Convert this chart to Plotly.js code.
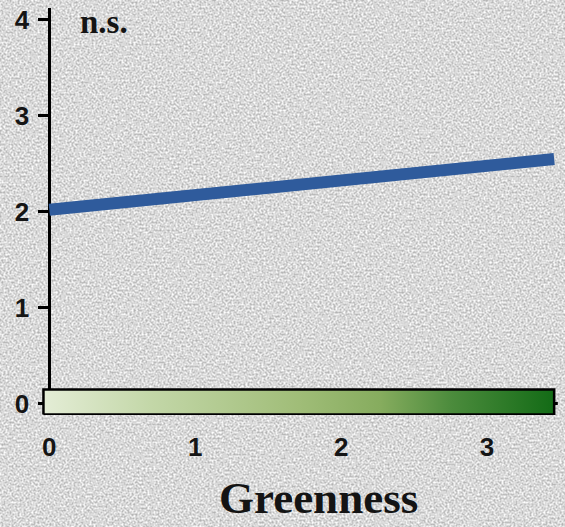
<!DOCTYPE html>
<html>
<head>
<meta charset="utf-8">
<script src="https://cdn.plot.ly/plotly-3.0.1.min.js"></script>
<style>
  html, body { margin: 0; padding: 0; }
  body {
    width: 565px; height: 527px; overflow: hidden;
    background-color: #ffffff;
    background-image: url("data:image/svg+xml;utf8,<svg xmlns='http://www.w3.org/2000/svg' width='565' height='527'><filter id='g' color-interpolation-filters='sRGB'><feTurbulence type='fractalNoise' baseFrequency='0.5' numOctaves='2' seed='7' stitchTiles='stitch'/><feColorMatrix type='matrix' values='1.8 0 0 0 -0.4  1.8 0 0 0 -0.4  1.8 0 0 0 -0.4  0 0 0 0 0.3'/></filter><rect width='100%' height='100%' filter='url(%23g)'/></svg>");
  }
  #chart { width: 565px; height: 527px; }
</style>
</head>
<body>
<div id="chart"></div>
<script>
// Fitted trend of the response against greenness
const lineX = [0, 3.46];
const lineY = [2.02, 2.55];

// Greenness scale strip along the bottom of the panel
const scaleX = [-0.04, 3.46];
const scaleY = [-0.115, 0.145];
const scaleColors = [
  [0.00, '#e4edd6'],
  [0.21, '#c3d7a8'],
  [0.50, '#a0bd78'],
  [0.66, '#86ac5e'],
  [0.80, '#4b8b3c'],
  [1.00, '#136b16']
];

const xTicks = [0, 1, 2, 3];
const yTicks = [0, 1, 2, 3, 4];
const xTitle = 'Greenness';
const sigLabel = 'n.s.';

const xRange = [-0.05, 3.5];
const yRange = [-0.12, 4.125];

const scaleTrace = {
  type: 'scatter',
  mode: 'lines',
  x: [scaleX[0], scaleX[1], scaleX[1], scaleX[0], scaleX[0]],
  y: [scaleY[0], scaleY[0], scaleY[1], scaleY[1], scaleY[0]],
  fill: 'toself',
  fillgradient: { type: 'horizontal', colorscale: scaleColors },
  line: { color: '#000000', width: 2.5 },
  hoverinfo: 'skip',
  showlegend: false
};

const trendTrace = {
  type: 'scatter',
  mode: 'lines',
  x: lineX,
  y: lineY,
  line: { color: '#2f5b9c', width: 12 },
  showlegend: false
};

function tickFont() {
  return { family: 'Liberation Sans, Arial, sans-serif', size: 26, color: '#151515', weight: 'bold' };
}
function serifFont(size) {
  return { family: 'Liberation Serif, Times New Roman, serif', size: size, color: '#141414', weight: 'bold' };
}

const layout = {
  width: 565,
  height: 527,
  margin: { l: 41.7, r: 5.3, t: 8, b: 111.5, pad: 0 },
  paper_bgcolor: 'rgba(0,0,0,0)',
  plot_bgcolor: 'rgba(0,0,0,0)',
  showlegend: false,
  xaxis: {
    range: xRange,
    tickmode: 'array',
    tickvals: xTicks,
    ticktext: xTicks.map(String),
    showgrid: false,
    zeroline: false,
    showline: false,
    ticks: '',
    tickfont: tickFont(),
    ticklabelstandoff: 14,
    fixedrange: true
  },
  yaxis: {
    range: yRange,
    anchor: 'free',
    position: (0 - xRange[0]) / (xRange[1] - xRange[0]),
    tickmode: 'array',
    tickvals: yTicks,
    ticktext: yTicks.map(String),
    showgrid: false,
    zeroline: false,
    showline: true,
    linecolor: '#000000',
    linewidth: 3,
    ticks: 'outside',
    ticklen: 10,
    tickwidth: 3,
    tickcolor: '#000000',
    tickfont: tickFont(),
    ticklabelstandoff: 4,
    layer: 'below traces',
    fixedrange: true
  },
  shapes: [{
    type: 'line', layer: 'below',
    xref: 'x', yref: 'y',
    x0: 0, x1: 3.485, y0: 0, y1: 0,
    line: { color: '#000000', width: 3 }
  }],
  annotations: [
    {
      text: sigLabel,
      xref: 'x', yref: 'y',
      x: 0.2, y: 3.98,
      xanchor: 'left', yanchor: 'middle',
      showarrow: false,
      font: serifFont(33)
    },
    {
      text: xTitle,
      xref: 'x', yref: 'paper',
      x: 1.846, y: -0.2712,
      xanchor: 'center', yanchor: 'bottom',
      showarrow: false,
      font: serifFont(45)
    }
  ]
};

Plotly.newPlot('chart', [scaleTrace, trendTrace], layout, { displayModeBar: false, staticPlot: true });
</script>
</body>
</html>
